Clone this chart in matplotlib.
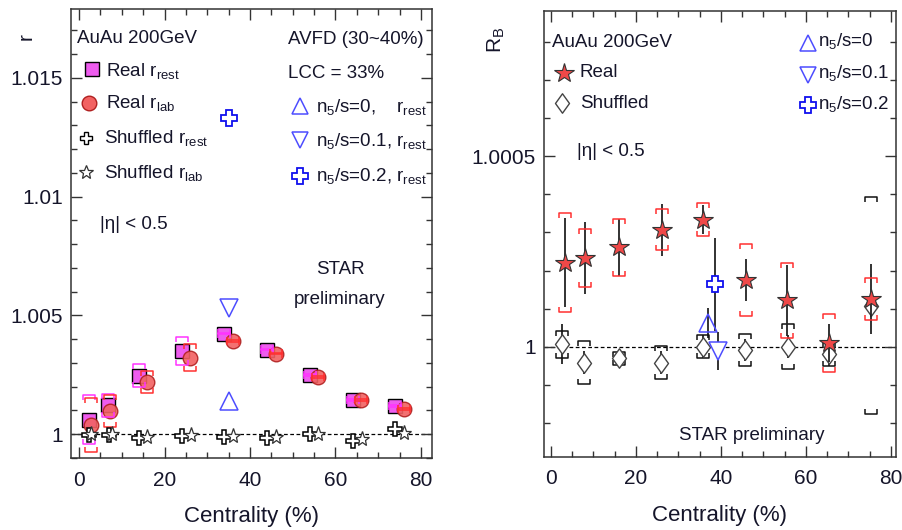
import matplotlib
matplotlib.use('Agg')
import matplotlib.pyplot as plt
import numpy as np
from matplotlib.path import Path
from matplotlib.ticker import MultipleLocator, FuncFormatter

plt.rcParams['font.family'] = ['Liberation Sans', 'DejaVu Sans']
plt.rcParams['mathtext.fontset'] = 'custom'
plt.rcParams['mathtext.rm'] = 'Liberation Sans'
plt.rcParams['mathtext.it'] = 'Liberation Sans:italic'
plt.rcParams['mathtext.default'] = 'rm'

# ---------------- data: left panel (r) ----------------
cent_r_rest = [2.3, 6.7, 14.0, 24.0, 34.0, 44.0, 54.0, 64.0, 74.0]
r_rest = [1.00062, 1.00122, 1.00247, 1.00352, 1.00424, 1.00356, 1.00249, 1.00144, 1.00118]
r_rest_sys = [0.00105, 0.00048, 0.00047, 0.00059, 0.00004, 0.00003, 0.00003, 0.00003, 0.00003]

cent_r_lab = [2.7, 7.3, 15.8, 26.0, 36.0, 46.0, 56.0, 66.0, 76.0]
r_lab = [1.00039, 1.00097, 1.00220, 1.00322, 1.00392, 1.00339, 1.00241, 1.00144, 1.00106]
r_lab_sys = [0.00115, 0.00068, 0.00046, 0.00056, 0.00004, 0.00003, 0.00003, 0.00003, 0.00003]

cent_shuf_rest = [2.3, 6.9, 14.0, 24.0, 34.0, 43.9, 54.0, 64.1, 73.9]
shuf_r_rest = [0.99996, 0.99996, 0.99986, 0.99993, 0.99989, 0.99986, 0.99999, 0.99971, 1.00020]
cent_shuf_lab = [2.7, 7.6, 16.0, 26.1, 36.1, 46.1, 56.0, 66.1, 76.0]
shuf_r_lab = [1.00000, 1.00003, 0.99989, 0.99997, 0.99993, 0.99989, 0.99999, 0.99978, 1.00005]

avfd_cent_L = [35.1, 35.1, 35.0]
avfd_r = [1.00140, 1.00533, 1.01330]   # n5/s = 0, 0.1, 0.2

# ---------------- data: right panel (R_B) ----------------
cent_real = [3.3, 8.0, 16.0, 26.1, 35.8, 45.8, 55.5, 65.5, 75.3]
RB_real = [1.000221, 1.000233, 1.000261, 1.000307, 1.000334, 1.000176, 1.000122, 1.0000105, 1.000125]
RB_real_stat = [0.000116, 0.000095, 0.000075, 0.000069, 0.000039, 0.000055, 0.000093, 0.000050, 0.000093]
RB_real_sys = [0.000130, 0.000076, 0.000075, 0.000054, 0.000043, 0.000095, 0.000099, 0.000076, 0.000055]

cent_shuf = [2.7, 7.8, 16.0, 26.0, 35.9, 45.7, 55.7, 65.5, 75.3]
RB_shuf = [1.0000063, 0.999958, 0.999969, 0.999958, 1.000000, 0.999991, 1.000000, 0.999980, 1.000107]
RB_shuf_stat = [0.000053, 0.000030, 0.000015, 0.000030, 0.000030, 0.000030, 0.000030, 0.000030, 0.000030]
RB_shuf_sys = [0.000036, 0.000056, 0.000018, 0.000043, 0.000030, 0.000041, 0.000059, 0.000030, 0.000285]

avfd_cent_R = [36.9, 39.3, 38.7]
avfd_RB = [1.000063, 0.999989, 1.000164]
avfd_RB_stat = [0.000039, 0.000050, 0.000122]

TEXT = '#15152a'
SPINE = '#333333'
MAG_FACE = '#ee5cee'
MAG_LINE = '#ff33ff'
RED_FACE = '#f26262'
RED_EDGE = '#b02020'
RED_LINE = '#ff3030'
BLUE_LT = '#4d4dff'
BLUE = '#1010ee'

TOP_BR = Path([(-1, -0.75), (-1, 0), (1, 0), (1, -0.75)],
              [Path.MOVETO, Path.LINETO, Path.LINETO, Path.LINETO])
BOT_BR = Path([(-1, 0.75), (-1, 0), (1, 0), (1, 0.75)],
              [Path.MOVETO, Path.LINETO, Path.LINETO, Path.LINETO])
DIAM = Path([(0, 1), (0.72, 0), (0, -1), (-0.72, 0), (0, 1)],
            [Path.MOVETO, Path.LINETO, Path.LINETO, Path.LINETO, Path.CLOSEPOLY])


def brackets(ax, x, y, e, color, ms=9, lw=1.1, z=3):
    x = np.asarray(x); y = np.asarray(y); e = np.asarray(e)
    ax.plot(x, y + e, ls='none', marker=TOP_BR, ms=ms, mfc='none', mec=color, mew=lw, zorder=z)
    ax.plot(x, y - e, ls='none', marker=BOT_BR, ms=ms, mfc='none', mec=color, mew=lw, zorder=z)


def style(ax):
    ax.tick_params(which='both', direction='in', top=True, right=True,
                   color=SPINE, labelcolor=TEXT, labelsize=15, width=1.0)
    ax.tick_params(which='major', length=8, pad=6)
    ax.tick_params(axis='x', which='major', pad=9)
    ax.tick_params(which='minor', length=4.5)
    for s in ax.spines.values():
        s.set_color(SPINE)
        s.set_linewidth(1.1)
    ax.xaxis.set_major_locator(MultipleLocator(20))
    ax.xaxis.set_minor_locator(MultipleLocator(5))
    ax.yaxis.set_major_formatter(FuncFormatter(lambda v, p: f'{v:g}'))
    ax.set_xlabel('Centrality (%)', fontsize=16, color=TEXT, labelpad=12)


fig = plt.figure(figsize=(9.02, 5.30), dpi=100)
axL = fig.add_axes([71 / 902, 1 - 458 / 530, 361 / 902, 449 / 530])
axR = fig.add_axes([544 / 902, 1 - 457 / 530, 352 / 902, 446 / 530])

# ================= LEFT =================
ax = axL
style(ax)
ax.set_xlim(-1.9, 82.6)
ax.set_ylim(0.999, 1.0179)
ax.yaxis.set_major_locator(MultipleLocator(0.005))
ax.yaxis.set_minor_locator(MultipleLocator(0.001))
ax.axhline(1.0, color='k', ls=(0, (3, 2)), lw=0.9, zorder=1)

ax.plot(cent_r_rest, r_rest, ls='none', marker='s', ms=9.5, mfc=MAG_FACE, mec='k', mew=1.0, zorder=4)
ax.plot(cent_r_lab, r_lab, ls='none', marker='o', ms=10.5, mfc=RED_FACE, mec=RED_EDGE, mew=1.0,
        alpha=0.9, zorder=5)
brackets(ax, cent_r_rest, r_rest, r_rest_sys, MAG_LINE, ms=9, z=6)
brackets(ax, cent_r_lab, r_lab, r_lab_sys, RED_LINE, ms=9, z=6)
ax.plot(cent_shuf_rest, shuf_r_rest, ls='none', marker='P', ms=9.5, mfc='white', mec='k', mew=1.1, zorder=7)
ax.plot(cent_shuf_lab, shuf_r_lab, ls='none', marker='*', ms=11, mfc='white', mec='#333', mew=0.9, zorder=7)

ax.plot(avfd_cent_L[0], avfd_r[0], ls='none', marker='^', ms=12.5, mfc='none', mec=BLUE_LT, mew=1.1, zorder=7)
ax.plot(avfd_cent_L[1], avfd_r[1], ls='none', marker='v', ms=12.5, mfc='none', mec=BLUE_LT, mew=1.1, zorder=7)
ax.plot(avfd_cent_L[2], avfd_r[2], ls='none', marker='P', ms=12, mfc='white', mec=BLUE, mew=1.3, zorder=7)

T = ax.transAxes
fsL = 13.5
ax.text(0.017, 0.935, 'AuAu 200GeV', transform=T, fontsize=fsL, color=TEXT, va='center')
ax.plot(0.058, 0.866, transform=T, marker='s', ms=9.5, mfc=MAG_FACE, mec='k', mew=1.0, ls='none')
ax.text(0.097, 0.851, 'Real r$_{rest}$', transform=T, fontsize=fsL, color=TEXT, va='baseline')
ax.plot(0.050, 0.791, transform=T, marker='o', ms=10.5, mfc=RED_FACE, mec=RED_EDGE, mew=1.0, ls='none')
ax.text(0.097, 0.780, 'Real r$_{lab}$', transform=T, fontsize=fsL, color=TEXT, va='baseline')
ax.plot(0.042, 0.713, transform=T, marker='P', ms=8, mfc='white', mec='k', mew=1.0, ls='none')
ax.text(0.091, 0.702, 'Shuffled r$_{rest}$', transform=T, fontsize=fsL, color=TEXT, va='baseline')
ax.plot(0.042, 0.637, transform=T, marker='*', ms=10, mfc='white', mec='#333', mew=0.9, ls='none')
ax.text(0.091, 0.624, 'Shuffled r$_{lab}$', transform=T, fontsize=fsL, color=TEXT, va='baseline')

ax.text(0.601, 0.922, 'AVFD (30~40%)', transform=T, fontsize=fsL, color=TEXT, va='baseline')
ax.text(0.601, 0.846, 'LCC = 33%', transform=T, fontsize=fsL, color=TEXT, va='baseline')
ax.plot(0.634, 0.784, transform=T, marker='^', ms=12, mfc='none', mec=BLUE_LT, mew=1.1, ls='none')
ax.text(0.679, 0.771, 'n$_5$/s=0,    r$_{rest}$', transform=T, fontsize=fsL, color=TEXT, va='baseline')
ax.plot(0.634, 0.708, transform=T, marker='v', ms=12, mfc='none', mec=BLUE_LT, mew=1.1, ls='none')
ax.text(0.679, 0.695, 'n$_5$/s=0.1, r$_{rest}$', transform=T, fontsize=fsL, color=TEXT, va='baseline')
ax.plot(0.634, 0.628, transform=T, marker='P', ms=11, mfc='white', mec=BLUE, mew=1.3, ls='none')
ax.text(0.679, 0.617, 'n$_5$/s=0.2, r$_{rest}$', transform=T, fontsize=fsL, color=TEXT, va='baseline')

ax.text(0.080, 0.519, '|η| < 0.5', transform=T, fontsize=fsL, color=TEXT, va='center')
ax.text(0.745, 0.419, 'STAR', transform=T, fontsize=fsL, color=TEXT, va='center', ha='center')
ax.text(0.745, 0.352, 'preliminary', transform=T, fontsize=fsL, color=TEXT, va='center', ha='center')

fig.text(26 / 902, 1 - 37 / 530, 'r', rotation=90, fontsize=15, color=TEXT, ha='center', va='center')

# ================= RIGHT =================
ax = axR
style(ax)
ax.set_xlim(-1.6, 81.2)
ax.set_ylim(0.99971, 1.000882)
ax.yaxis.set_major_locator(MultipleLocator(0.0005))
ax.yaxis.set_minor_locator(MultipleLocator(0.0001))
ax.axhline(1.0, color='k', ls=(0, (3, 2)), lw=0.9, zorder=1)

ax.errorbar(cent_shuf, RB_shuf, yerr=RB_shuf_stat, fmt='none', ecolor='#222', elinewidth=1.3, capsize=0, zorder=2)
brackets(ax, cent_shuf, RB_shuf, RB_shuf_sys, '#111', ms=9, z=3)
ax.plot(cent_shuf, RB_shuf, ls='none', marker=DIAM, ms=14, mfc='white', mec='#444', mew=1.0, zorder=4)

ax.errorbar(cent_real, RB_real, yerr=RB_real_stat, fmt='none', ecolor='#222', elinewidth=1.3, capsize=0, zorder=5)
brackets(ax, cent_real, RB_real, RB_real_sys, RED_LINE, ms=9, z=6)
ax.plot(cent_real, RB_real, ls='none', marker='*', ms=15, mfc='#ef4848', mec='#333', mew=0.8, zorder=7)

ax.errorbar(avfd_cent_R, avfd_RB, yerr=avfd_RB_stat, fmt='none', ecolor='#222', elinewidth=1.3, capsize=0, zorder=2)
ax.plot(avfd_cent_R[0], avfd_RB[0], ls='none', marker='^', ms=12.5, mfc='none', mec=BLUE_LT, mew=1.1, zorder=8)
ax.plot(avfd_cent_R[1], avfd_RB[1], ls='none', marker='v', ms=12.5, mfc='white', mec=BLUE_LT, mew=1.1, zorder=8)
ax.plot(avfd_cent_R[2], avfd_RB[2], ls='none', marker='P', ms=12, mfc='white', mec=BLUE, mew=1.3, zorder=8)

T = ax.transAxes
ax.text(0.022, 0.930, 'AuAu 200GeV', transform=T, fontsize=fsL, color=TEXT, va='center')
ax.plot(0.058, 0.862, transform=T, marker='*', ms=15, mfc='#ef4848', mec='#333', mew=0.8, ls='none')
ax.text(0.102, 0.862, 'Real', transform=T, fontsize=fsL, color=TEXT, va='center')
ax.plot(0.050, 0.793, transform=T, marker=DIAM, ms=14, mfc='white', mec='#444', mew=1.0, ls='none')
ax.text(0.102, 0.793, 'Shuffled', transform=T, fontsize=fsL, color=TEXT, va='center')
ax.plot(0.751, 0.929, transform=T, marker='^', ms=12, mfc='none', mec=BLUE_LT, mew=1.1, ls='none')
ax.text(0.779, 0.921, 'n$_5$/s=0', transform=T, fontsize=fsL, color=TEXT, va='baseline')
ax.plot(0.751, 0.857, transform=T, marker='v', ms=12, mfc='none', mec=BLUE_LT, mew=1.1, ls='none')
ax.text(0.779, 0.850, 'n$_5$/s=0.1', transform=T, fontsize=fsL, color=TEXT, va='baseline')
ax.plot(0.751, 0.789, transform=T, marker='P', ms=11, mfc='white', mec=BLUE, mew=1.3, ls='none')
ax.text(0.779, 0.780, 'n$_5$/s=0.2', transform=T, fontsize=fsL, color=TEXT, va='baseline')
ax.text(0.093, 0.684, '|η| < 0.5', transform=T, fontsize=fsL, color=TEXT, va='center')
ax.text(0.591, 0.049, 'STAR preliminary', transform=T, fontsize=fsL, color=TEXT, va='center', ha='center')

fig.text(496 / 902, 1 - 40 / 530, 'R$_B$', rotation=90, fontsize=15, color=TEXT, ha='center', va='center')

fig.savefig('out.png', dpi=100)
